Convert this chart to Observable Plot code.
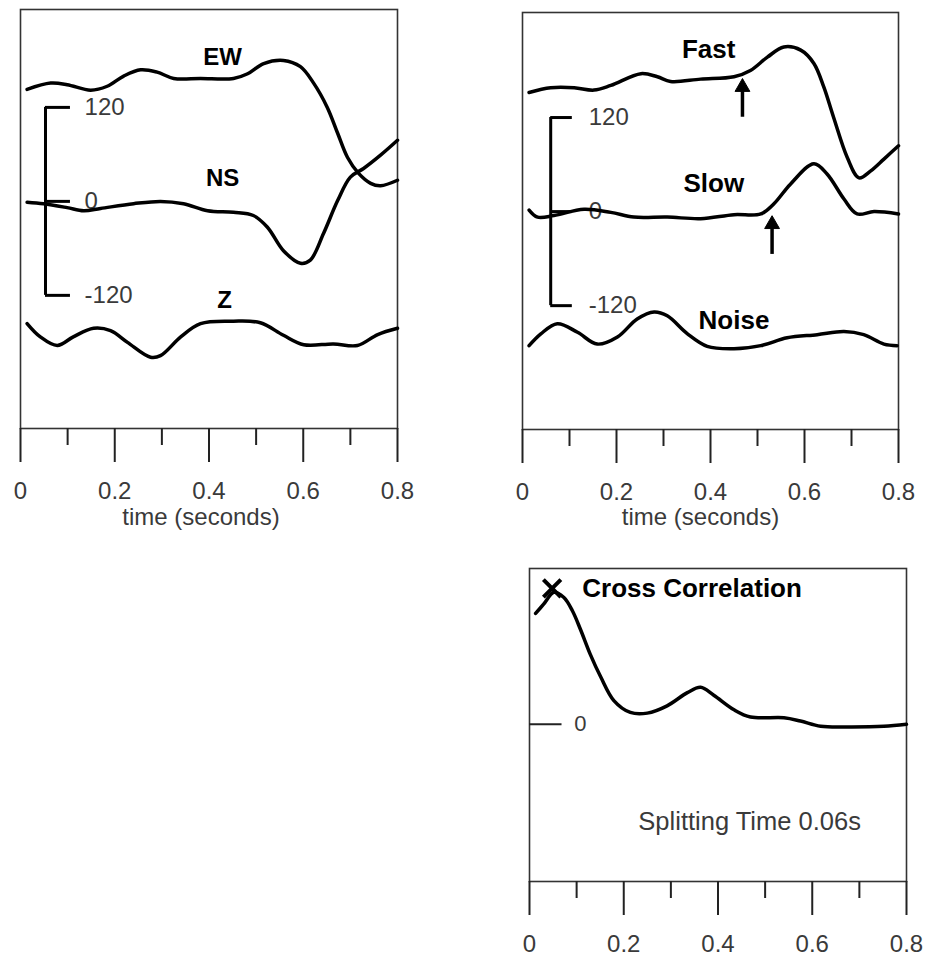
<!DOCTYPE html>
<html>
<head>
<meta charset="utf-8">
<script src="https://cdn.jsdelivr.net/npm/d3@7"></script>
<script src="https://cdn.jsdelivr.net/npm/@observablehq/plot@0.6"></script>
<style>
html, body { margin: 0; padding: 0; background: #fff; }
#root { position: relative; width: 925px; height: 958px; overflow: hidden; background: #fff; }
.panel { position: absolute; }
.panel svg { overflow: visible; max-width: none; }
</style>
</head>
<body>
<div id="root">
  <div class="panel" id="pA" style="left:0px;top:0px"></div>
  <div class="panel" id="pB" style="left:500px;top:0px"></div>
  <div class="panel" id="pC" style="left:500px;top:550px"></div>
</div>
<script>
// ---------- DATA ----------
const majorTicks = [0, 0.2, 0.4, 0.6, 0.8];
const majorTickLabels = ["0", "0.2", "0.4", "0.6", "0.8"];
const minorTicks = [0.1, 0.3, 0.5, 0.7];
const axisTitle = "time (seconds)";

// Panel A: raw components
const ewT = [0.014,0.064,0.099,0.149,0.184,0.219,0.255,0.290,0.325,0.382,0.452,0.482,0.516,0.558,0.594,0.622,0.651,0.673,0.694,0.717,0.743,0.764,0.800];
const ewV = [143,151,149,142,147,160,168,165,157,157,157,163,176,180,172,151,120,87,56,36,23,20,27];
const nsT = [0.014,0.049,0.099,0.134,0.170,0.240,0.297,0.346,0.397,0.452,0.494,0.524,0.558,0.594,0.615,0.643,0.673,0.700,0.728,0.764,0.800];
const nsV = [-1,-3,-8,-12,-9,-3,0,-3,-12,-14,-18,-33,-63,-79,-75,-41,1,31,42,59,78];
const zT = [0.014,0.042,0.078,0.112,0.155,0.191,0.227,0.276,0.297,0.340,0.382,0.452,0.509,0.558,0.601,0.664,0.715,0.758,0.800];
const zV = [-156,-173,-184,-173,-162,-165,-180,-199,-197,-173,-156,-153,-155,-171,-183,-182,-184,-170,-162];
const labelsA = ["EW", "NS", "Z"];
const labelsAT = [0.429, 0.429, 0.433];
const labelsAV = [184, 29, -126];

// Panel B: rotated components
const fastT = [0.014,0.060,0.110,0.152,0.188,0.252,0.287,0.315,0.379,0.450,0.485,0.521,0.556,0.592,0.620,0.641,0.662,0.691,0.716,0.741,0.769,0.800];
const fastV = [152,158,158,155,161,176,172,166,169,172,180,197,210,206,189,159,120,69,43,52,67,84];
const slowT = [0.014,0.032,0.067,0.131,0.188,0.237,0.308,0.379,0.450,0.507,0.535,0.570,0.620,0.648,0.684,0.712,0.748,0.800];
const slowV = [2,-7,-5,3,-1,-7,-7,-9,-4,-3,10,35,61,48,16,-3,0,-3];
const noiseT = [0.014,0.039,0.074,0.117,0.159,0.202,0.244,0.280,0.308,0.351,0.393,0.450,0.507,0.563,0.627,0.684,0.726,0.769,0.797];
const noiseV = [-171,-156,-143,-154,-169,-160,-137,-128,-133,-156,-172,-175,-171,-161,-157,-153,-157,-169,-171];
const labelsB = ["Fast", "Slow", "Noise"];
const labelsBT = [0.396, 0.407, 0.450];
const labelsBV = [207, 36, -139];
const arrowT = [0.468, 0.531];
const arrowFrom = [121, -54];
const arrowTo = [155, -20];

// amplitude scale bar
const scaleTicks = [120, 0, -120];
const scaleLabels = ["120", "0", "-120"];
const scaleBarA = {t: 0.053, tickEnd: 0.106, labelT: 0.136};
const scaleBarB = {t: 0.060, tickEnd: 0.106, labelT: 0.141};

// Panel C: cross correlation
const ccT = [0.013,0.030,0.052,0.073,0.091,0.108,0.129,0.151,0.179,0.214,0.250,0.292,0.335,0.363,0.391,0.434,0.469,0.540,0.575,0.618,0.681,0.752,0.800];
const ccV = [0.84,0.91,1.0,0.96,0.86,0.72,0.53,0.36,0.18,0.09,0.085,0.14,0.24,0.28,0.22,0.11,0.055,0.05,0.025,-0.015,-0.02,-0.015,0];
const ccPeakT = 0.048, ccPeakV = 1.03;
const ccTitle = "Cross Correlation";
const ccNote = "Splitting Time 0.06s";

// ---------- BUILD ----------
const font = "'Liberation Sans', Arial, Helvetica, sans-serif";
const rows = (ts, vs, name) => ts.map((t, i) => ({t, v: vs[i], series: name}));
const labelRows = (txt, ts, vs) => txt.map((s, i) => ({text: s, t: ts[i], v: vs[i]}));
const tickFmt = (d) => majorTickLabels[majorTicks.indexOf(d)] ?? "";

function xAxes() {
  return [
    Plot.axisX({ticks: majorTicks, tickSize: 34, tickPadding: 19, tickFormat: tickFmt,
      fontSize: 24, fill: "#3a3a3a", stroke: "#222", strokeWidth: 2, label: null}),
    Plot.axisX({ticks: minorTicks, tickSize: 17, fill: "none", stroke: "#222", strokeWidth: 2, label: null})
  ];
}

function scaleBar(sb) {
  return [
    Plot.ruleX([sb.t], {y1: -120, y2: 120, stroke: "#000", strokeWidth: 3}),
    Plot.ruleY(scaleTicks, {x1: sb.t, x2: sb.tickEnd, stroke: "#000", strokeWidth: 3}),
    Plot.text(scaleTicks.map((v, i) => ({v, text: scaleLabels[i]})),
      {x: () => sb.labelT, y: "v", text: "text", textAnchor: "start", fontSize: 24, fill: "#3a3a3a"})
  ];
}

const plotA = Plot.plot({
  width: 420, height: 540,
  marginLeft: 20, marginRight: 23, marginTop: 9, marginBottom: 112,
  x: {domain: [0, 0.8], axis: null},
  y: {domain: [-290, 245], axis: null},
  style: {fontFamily: font, background: "transparent", color: "#111", overflow: "visible"},
  marks: [
    Plot.frame({stroke: "#333", strokeWidth: 1.6}),
    ...xAxes(),
    Plot.text([axisTitle], {frameAnchor: "bottom", dx: -8, dy: 96, fontSize: 24, fill: "#3a3a3a"}),
    ...scaleBar(scaleBarA),
    Plot.line([...rows(ewT, ewV, "EW"), ...rows(nsT, nsV, "NS"), ...rows(zT, zV, "Z")],
      {x: "t", y: "v", z: "series", curve: "catmull-rom", stroke: "#000", strokeWidth: 3.5}),
    Plot.text(labelRows(labelsA, labelsAT, labelsAV),
      {x: "t", y: "v", text: "text", fontWeight: "bold", fontSize: 24, fill: "#000"})
  ]
});
document.getElementById("pA").append(plotA);

const arrows = arrowT.map((t, i) => ({t, v1: arrowFrom[i], v2: arrowTo[i]}));
const plotB = Plot.plot({
  width: 425, height: 540,
  marginLeft: 22, marginRight: 27, marginTop: 12, marginBottom: 111,
  x: {domain: [0, 0.8], axis: null},
  y: {domain: [-278, 254], axis: null},
  style: {fontFamily: font, background: "transparent", color: "#111", overflow: "visible"},
  marks: [
    Plot.frame({stroke: "#333", strokeWidth: 1.6}),
    ...xAxes(),
    Plot.text([axisTitle], {frameAnchor: "bottom", dx: -10, dy: 95, fontSize: 24, fill: "#3a3a3a"}),
    ...scaleBar(scaleBarB),
    Plot.line([...rows(fastT, fastV, "Fast"), ...rows(slowT, slowV, "Slow"), ...rows(noiseT, noiseV, "Noise")],
      {x: "t", y: "v", z: "series", curve: "catmull-rom", stroke: "#000", strokeWidth: 3.5}),
    Plot.link(arrows, {x1: "t", x2: "t", y1: "v1", y2: "v2", stroke: "#000", strokeWidth: 3.5}),
    Plot.dot(arrows, {x: "t", y: "v2", symbol: "triangle", r: 5.5, fill: "#000", stroke: "#000", strokeWidth: 1, dy: -3}),
    Plot.text(labelRows(labelsB, labelsBT, labelsBV),
      {x: "t", y: "v", text: "text", fontWeight: "bold", fontSize: 26, fill: "#000"})
  ]
});
document.getElementById("pB").append(plotB);

const plotC = Plot.plot({
  width: 425, height: 408,
  marginLeft: 29, marginRight: 19, marginTop: 18, marginBottom: 77,
  x: {domain: [0, 0.8], axis: null},
  y: {domain: [-1.19, 1.18], axis: null},
  style: {fontFamily: font, background: "transparent", color: "#111", overflow: "visible"},
  marks: [
    Plot.frame({stroke: "#333", strokeWidth: 1.6}),
    ...xAxes(),
    Plot.ruleY([0], {x1: 0, x2: 0.069, stroke: "#222", strokeWidth: 2}),
    Plot.text([{t: 0.095, v: 0, text: "0"}], {x: "t", y: "v", text: "text", textAnchor: "start", fontSize: 22, fill: "#3a3a3a"}),
    Plot.line(rows(ccT, ccV, "cc"), {x: "t", y: "v", curve: "catmull-rom", stroke: "#000", strokeWidth: 3.5}),
    Plot.dot([{t: ccPeakT, v: ccPeakV}], {x: "t", y: "v", symbol: "times", r: 8, stroke: "#000", strokeWidth: 4}),
    Plot.text([{t: 0.112, v: 1.03, text: ccTitle}], {x: "t", y: "v", text: "text", textAnchor: "start", fontWeight: "bold", fontSize: 26, fill: "#000"}),
    Plot.text([{t: 0.231, v: -0.741, text: ccNote}], {x: "t", y: "v", text: "text", textAnchor: "start", fontSize: 25.5, fill: "#3a3a3a"})
  ]
});
document.getElementById("pC").append(plotC);
</script>
</body>
</html>
